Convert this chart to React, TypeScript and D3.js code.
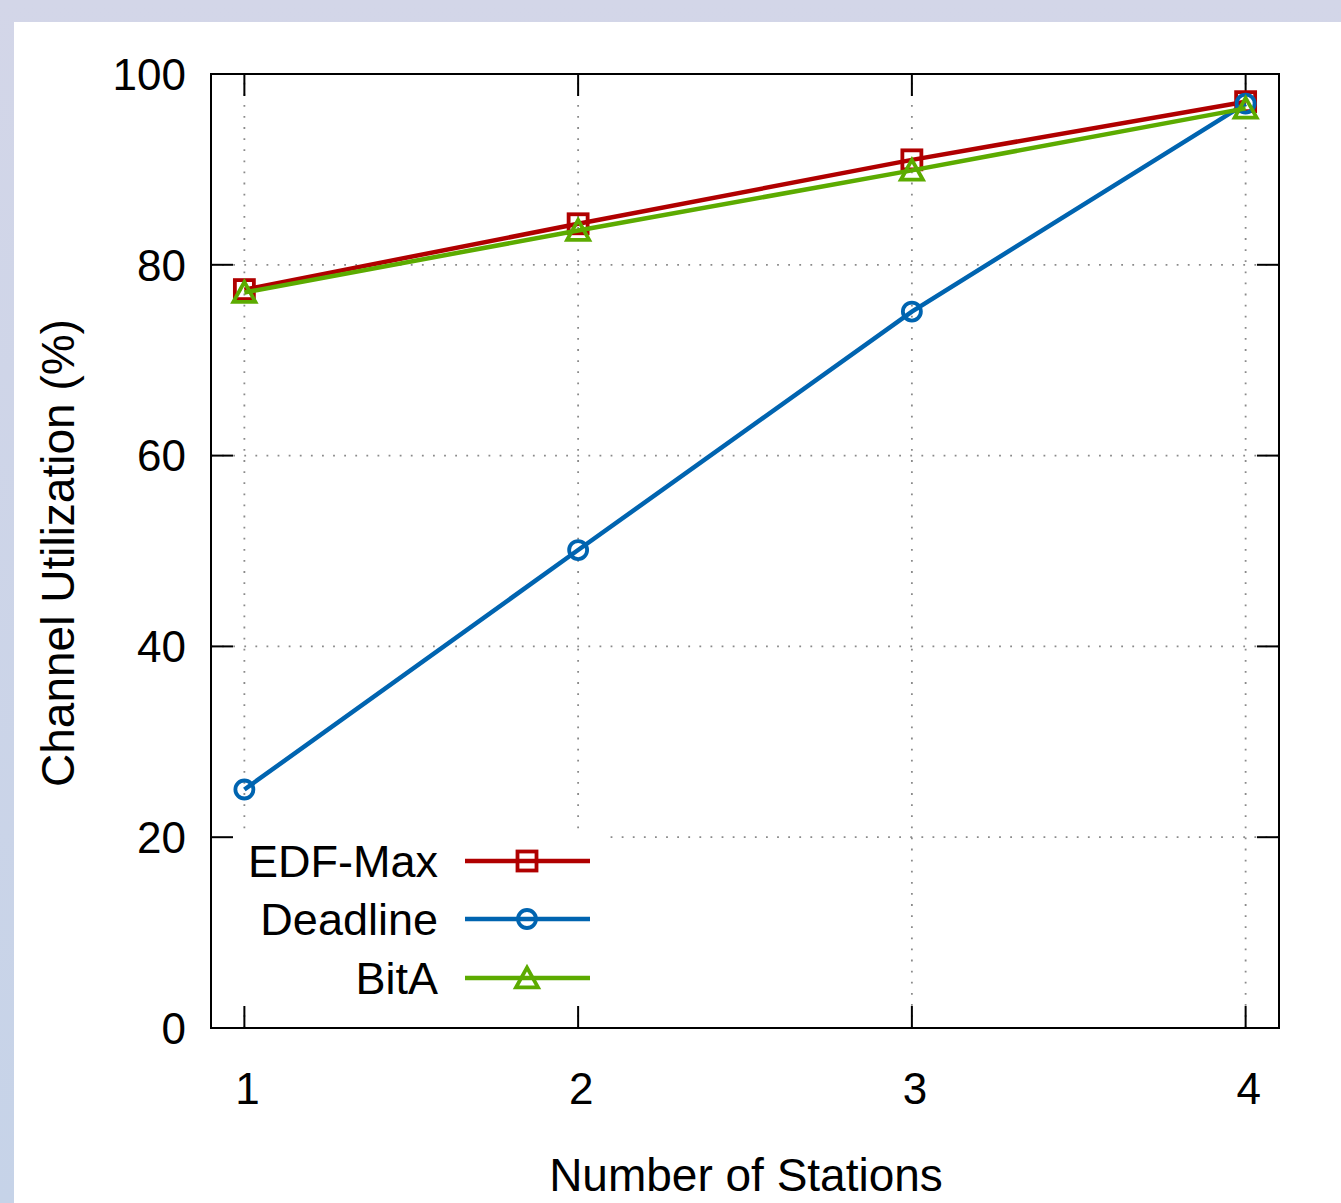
import React, { useEffect, useRef } from 'react';
import * as d3 from 'd3';

// Channel utilization vs number of stations

const stations = [1, 2, 3, 4];
const yTicks = [0, 20, 40, 60, 80, 100];
const seriesNames = ['EDF-Max', 'Deadline', 'BitA'];
const edfMax = [77.4, 84.3, 91.0, 97.1];
const deadline = [25.0, 50.1, 75.1, 96.9];
const bitA = [77.1, 83.6, 89.9, 96.4];
const colors = ['#b00000', '#0064b0', '#5cab00'];
const symbols = ['square', 'circle', 'triangle'];

const W = 1341;
const H = 1203;
const FONT = '"Liberation Sans", Arial, sans-serif';

const App = () => {
  const svgRef = useRef<SVGSVGElement>(null);

  useEffect(() => {
    const svg = d3.select(svgRef.current);
    svg.selectAll('*').remove();

    const left = 211;
    const right = 1279;
    const top = 74;
    const bottom = 1028;

    const x = d3.scaleLinear().domain([0.9, 4.1]).range([left, right]);
    const y = d3.scaleLinear().domain([0, 100]).range([bottom, top]);

    // page background
    const defs = svg.append('defs');
    const grad = defs.append('linearGradient').attr('id', 'bg').attr('x1', 0).attr('y1', 0).attr('x2', 0).attr('y2', 1);
    grad.append('stop').attr('offset', '0%').attr('stop-color', '#d3d6e8');
    grad.append('stop').attr('offset', '100%').attr('stop-color', '#c6d3e8');
    svg.append('rect').attr('width', W).attr('height', H).attr('fill', 'url(#bg)');
    svg.append('rect').attr('x', 14).attr('y', 22).attr('width', W - 14).attr('height', H - 22).attr('fill', '#fff');

    // grid
    const grid = svg.append('g').attr('stroke', '#8a8a8a').attr('stroke-width', 1.8).attr('stroke-dasharray', '1.8 9.3');
    grid.selectAll('line.gx')
      .data(stations)
      .enter()
      .append('line')
      .attr('x1', d => x(d))
      .attr('x2', d => x(d))
      .attr('y1', bottom)
      .attr('y2', top);
    grid.selectAll('line.gy')
      .data(yTicks)
      .enter()
      .append('line')
      .attr('x1', left)
      .attr('x2', right)
      .attr('y1', d => y(d))
      .attr('y2', d => y(d));

    // legend background hides the grid
    svg.append('rect')
      .attr('x', left + 1)
      .attr('y', 836)
      .attr('width', 397)
      .attr('height', 170)
      .attr('fill', '#fff');

    // border + ticks
    const axes = svg.append('g').attr('stroke', '#000').attr('stroke-width', 2);
    axes.append('rect')
      .attr('x', left)
      .attr('y', top)
      .attr('width', right - left)
      .attr('height', bottom - top)
      .attr('fill', 'none');
    const tl = 22;
    stations.forEach(s => {
      axes.append('line').attr('x1', x(s)).attr('x2', x(s)).attr('y1', bottom).attr('y2', bottom - tl);
      axes.append('line').attr('x1', x(s)).attr('x2', x(s)).attr('y1', top).attr('y2', top + tl);
    });
    yTicks.forEach(t => {
      axes.append('line').attr('x1', left).attr('x2', left + tl).attr('y1', y(t)).attr('y2', y(t));
      axes.append('line').attr('x1', right).attr('x2', right - tl).attr('y1', y(t)).attr('y2', y(t));
    });

    // tick labels
    svg.append('g')
      .selectAll('text')
      .data(yTicks)
      .enter()
      .append('text')
      .attr('x', left - 25)
      .attr('y', d => y(d))
      .attr('dy', '0.36em')
      .attr('text-anchor', 'end')
      .attr('font-family', FONT)
      .attr('font-size', 44)
      .text(d => d);

    svg.append('g')
      .selectAll('text')
      .data(stations)
      .enter()
      .append('text')
      .attr('x', d => x(d) + 3)
      .attr('y', 1104)
      .attr('text-anchor', 'middle')
      .attr('font-family', FONT)
      .attr('font-size', 44)
      .text(d => d);

    // axis titles
    svg.append('text')
      .attr('x', 746)
      .attr('y', 1191)
      .attr('text-anchor', 'middle')
      .attr('font-family', FONT)
      .attr('font-size', 46)
      .text('Number of Stations');

    svg.append('text')
      .attr('transform', `translate(74, 553) rotate(-90)`)
      .attr('text-anchor', 'middle')
      .attr('font-family', FONT)
      .attr('font-size', 46)
      .text('Channel Utilization (%)');

    const drawMarker = (g, kind, cx, cy, color) => {
      if (kind === 'square') {
        g.append('rect')
          .attr('x', cx - 9.5).attr('y', cy - 9.5).attr('width', 19).attr('height', 19)
          .attr('fill', 'none').attr('stroke', color).attr('stroke-width', 3.8);
      } else if (kind === 'circle') {
        g.append('circle')
          .attr('cx', cx).attr('cy', cy).attr('r', 9)
          .attr('fill', 'none').attr('stroke', color).attr('stroke-width', 3.8);
      } else {
        const s = 11;
        g.append('path')
          .attr('d', `M${cx - s},${cy + s * 0.85} L${cx + s},${cy + s * 0.85} L${cx},${cy - s * 0.95} Z`)
          .attr('fill', 'none').attr('stroke', color).attr('stroke-width', 3.8)
          .attr('stroke-linejoin', 'miter');
      }
    };

    // series
    const allSeries = [edfMax, deadline, bitA];
    const line = d3.line<number>().x((_, i) => x(stations[i])).y(d => y(d));
    allSeries.forEach((vals, k) => {
      const g = svg.append('g');
      g.append('path')
        .attr('d', line(vals))
        .attr('fill', 'none')
        .attr('stroke', colors[k])
        .attr('stroke-width', 4.5);
      vals.forEach((v, i) => drawMarker(g, symbols[k], x(stations[i]), y(v), colors[k]));
    });

    // legend
    const rowY = [861, 919, 978];
    seriesNames.forEach((name, k) => {
      const g = svg.append('g');
      g.append('text')
        .attr('x', 438)
        .attr('y', rowY[k])
        .attr('dy', '0.36em')
        .attr('text-anchor', 'end')
        .attr('font-family', FONT)
        .attr('font-size', 45)
        .text(name);
      g.append('line')
        .attr('x1', 465).attr('x2', 590)
        .attr('y1', rowY[k]).attr('y2', rowY[k])
        .attr('stroke', colors[k]).attr('stroke-width', 4.5);
      drawMarker(g, symbols[k], 527, rowY[k], colors[k]);
    });
  }, []);

  return (
    <svg
      ref={svgRef}
      width={W}
      height={H}
      style={{ position: 'absolute', left: 0, top: 0, display: 'block' }}
    />
  );
};

export default App;
